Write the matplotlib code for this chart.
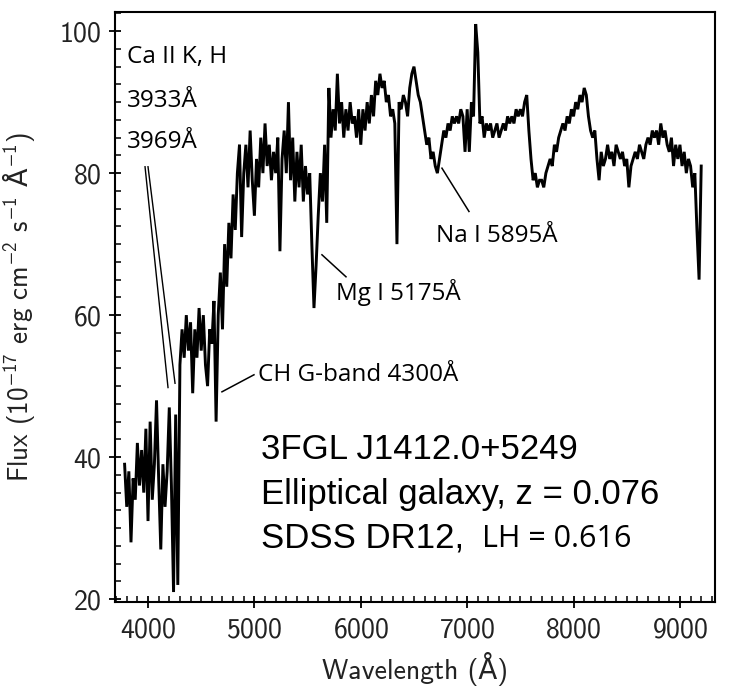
import numpy as np
import matplotlib
matplotlib.use("Agg")
import matplotlib.pyplot as plt
from matplotlib.ticker import MultipleLocator

plt.rcParams['font.family'] = ['cmss10', 'DejaVu Sans']
plt.rcParams['axes.formatter.use_mathtext'] = True
plt.rcParams['mathtext.fontset'] = 'custom'
plt.rcParams['mathtext.rm'] = 'cmss10'
plt.rcParams['mathtext.it'] = 'cmss10'
plt.rcParams['mathtext.sf'] = 'DejaVu Sans'
plt.rcParams['mathtext.fallback'] = 'stixsans'

# SDSS spectrum on a 20 A grid starting at 3780 A
wave_start = 3780
wave_step = 20
flux = [
    39, 33, 38, 28, 37, 34, 42, 36, 41, 35,   # 3780-3960
    44, 31, 45, 34, 39, 48, 37, 27, 39, 33,   # 3980-4160
    38, 47, 36, 21, 46, 22, 53, 58, 54, 60,   # 4180-4360
    55, 59, 49, 58, 54, 61, 55, 60, 53, 50,   # 4380-4560
    58, 56, 62, 45, 60, 66, 58, 70, 64, 73,   # 4580-4760
    68, 77, 72, 80, 84, 71, 80, 84, 78, 86,   # 4780-4960
    79, 74, 82, 78, 85, 80, 87, 81, 84, 79,   # 4980-5160
    83, 80, 85, 69, 82, 86, 80, 90, 79, 85,   # 5180-5360
    76, 83, 78, 84, 76, 81, 77, 80, 70, 61,   # 5380-5560
    67, 74, 80, 76, 84, 73, 92, 85, 89, 86,   # 5580-5760
    94, 87, 90, 85, 89, 86, 90, 87, 88, 85,   # 5780-5960
    89, 84, 89, 86, 90, 87, 91, 88, 93, 91,   # 5980-6160
    94, 92, 93, 90, 91, 88, 89, 87, 70, 90,   # 6180-6360
    89, 91, 90, 88, 92, 94, 95, 93, 91, 90,   # 6380-6560
    88, 86, 84, 85, 82, 83, 81, 80, 82, 84,   # 6580-6760
    86, 85, 87, 86, 88, 87, 88, 87, 89, 88,   # 6780-6960
    83, 89, 83, 90, 88, 101, 97, 87, 88, 85,  # 6980-7160
    87, 86, 87, 85, 86, 87, 85, 86, 87, 86,   # 7180-7360
    88, 87, 88, 87, 89, 88, 89, 88, 90, 91,   # 7380-7560
    86, 82, 79, 80, 78, 79, 79, 78, 80, 81,   # 7580-7760
    82, 81, 84, 83, 85, 86, 87, 86, 88, 87,   # 7780-7960
    89, 88, 90, 89, 91, 90, 92, 91, 88, 86,   # 7980-8160
    85, 86, 82, 79, 83, 81, 82, 84, 82, 83,   # 8180-8360
    81, 84, 83, 82, 83, 81, 82, 78, 81, 82,   # 8380-8560
    83, 82, 84, 83, 82, 84, 85, 84, 86, 85,   # 8580-8760
    86, 84, 87, 85, 86, 84, 83, 85, 81, 84,   # 8780-8960
    82, 84, 81, 83, 80, 82, 81, 78, 80, 72,   # 8980-9160
    65, 81,                                   # 9180-9200
]
wave = wave_start + wave_step * np.arange(len(flux))

# line labels: text, text position (wavelength, flux), pointer start/end
line_labels = ["Mg I 5175Å", "Na I 5895Å", "CH G-band 4300Å"]
line_text_pos = [(5767, 62.2), (6707, 70.3), (5034, 50.7)]
line_pointers = [((5635, 68.5), (5861, 65.4)),
                 ((6763, 80.7), (7017, 74.6)),
                 ((4695, 49.2), (4996, 51.6))]

ca_labels = ["Ca II K, H", "3933Å", "3969Å"]
ca_label_flux = [95.5, 89.3, 83.6]
ca_pointers = [((3972, 80.9), (4188, 49.8)),
               ((4000, 80.9), (4254, 50.4))]

info_lines = ["3FGL J1412.0+5249", "Elliptical galaxy, z = 0.076", "SDSS DR12,"]
info_flux = [39.7, 33.4, 27.3]
lh_text = "LH = 0.616"

fig = plt.figure(figsize=(7.46, 6.96), dpi=100)
ax = fig.add_axes([0.1542, 0.1351, 0.8043, 0.8477])

ax.plot(wave, flux, color='black', lw=2.1, solid_joinstyle='miter')

ax.set_xlim(3690, 9330)
ax.set_ylim(19.6, 102.7)
ax.xaxis.set_major_locator(MultipleLocator(1000))
ax.xaxis.set_minor_locator(MultipleLocator(100))
ax.yaxis.set_major_locator(MultipleLocator(20))
ax.yaxis.set_minor_locator(MultipleLocator(2.5))
ax.tick_params(which='major', direction='inout', length=8, width=1.3,
               labelsize=20, colors='black', labelcolor='#222222')
ax.tick_params(axis='x', which='major', pad=7)
ax.tick_params(axis='y', which='major', pad=6)
ax.tick_params(which='minor', direction='in', length=4, width=1.1)
for sp in ax.spines.values():
    sp.set_linewidth(1.5)

ax.set_xlabel("Wavelength (Å)", fontsize=20, color='#222222')
ax.set_ylabel(r"Flux (10$^{-17}$ erg cm$^{-2}$ s$^{-1}$ $\mathsf{Å}^{-1}$)",
              fontsize=19.5, color='#222222')
ax.xaxis.set_label_coords(0.5, -0.085)
ax.yaxis.set_label_coords(-0.13, 0.5)

ann_font = ['Open Sans', 'DejaVu Sans']
for txt, (tx, ty), (p0, p1) in zip(line_labels, line_text_pos, line_pointers):
    ax.text(tx, ty, txt, fontsize=17.5, family=ann_font, va='baseline', ha='left')
    ax.plot([p0[0], p1[0]], [p0[1], p1[1]], color='black', lw=1.1)

for txt, ty in zip(ca_labels, ca_label_flux):
    ax.text(3803, ty, txt, fontsize=17.5, family=ann_font, va='baseline', ha='left')
for p0, p1 in ca_pointers:
    ax.plot([p0[0], p1[0]], [p0[1], p1[1]], color='black', lw=1.0)

info_font = ['Liberation Sans', 'DejaVu Sans']
for txt, ty in zip(info_lines, info_flux):
    ax.text(5062, ty, txt, fontsize=25, family=info_font, va='baseline', ha='left')
ax.text(7139, info_flux[2], lh_text, fontsize=22, family=ann_font,
        va='baseline', ha='left')

fig.savefig("out.png", dpi=100)
